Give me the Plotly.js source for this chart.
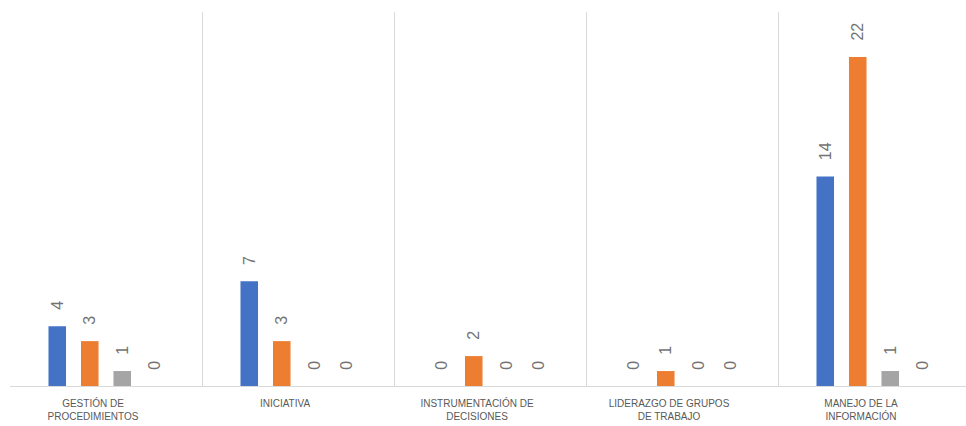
<!DOCTYPE html>
<html>
<head>
<meta charset="utf-8">
<script src="https://cdn.plot.ly/plotly-3.0.1.min.js"></script>
<style>html,body{margin:0;padding:0;background:#fff;}#chart{width:966px;height:426px;}</style>
</head>
<body>
<div id="chart"></div>
<script>
const categories = [
  "GESTIÓN DE<br>PROCEDIMIENTOS",
  "INICIATIVA",
  "INSTRUMENTACIÓN DE<br>DECISIONES",
  "LIDERAZGO DE GRUPOS<br>DE TRABAJO",
  "MANEJO DE LA<br>INFORMACIÓN"
];
const series1 = [4, 7, 0, 0, 14];
const series2 = [3, 3, 2, 1, 22];
const series3 = [1, 0, 0, 0, 1];
const series4 = [0, 0, 0, 0, 0];
const seriesNames = ["Serie 1", "Serie 2", "Serie 3", "Serie 4"];
const colors = ["#4472C4", "#ED7D31", "#A5A5A5", "#FFC000"];

const allSeries = [series1, series2, series3, series4];
const traces = allSeries.map((vals, i) => ({
  type: "bar",
  name: seriesNames[i],
  x: categories,
  y: vals,
  marker: {color: colors[i]},
  text: vals.map(v => String(v)),
  texttemplate: "\u00a0\u00a0\u00a0%{text}",
  textposition: "outside",
  textangle: -90,
  constraintext: "none",
  cliponaxis: false,
  textfont: {family: "Liberation Sans, Arial, sans-serif", size: 16, color: "#737373"},
  hoverinfo: "skip"
}));

const W = 966, L = 10, R = 0;
const catW = 192;
const plotW = W - L - R;

const layout = {
  width: 966,
  height: 426,
  margin: {l: L, r: R, t: 12, b: 40},
  paper_bgcolor: "#ffffff",
  plot_bgcolor: "#ffffff",
  showlegend: false,
  barmode: "group",
  bargap: 0.323,
  bargroupgap: 0.46,
  xaxis: {
    type: "category",
    range: [-0.5, -0.5 + plotW / catW],
    tickson: "boundaries",
    showgrid: true,
    gridcolor: "#d9d9d9",
    gridwidth: 1,
    showline: true,
    linecolor: "#d9d9d9",
    linewidth: 1,
    ticks: "",
    ticklabelshift: -13,
    ticklabelstandoff: 8,
    tickfont: {family: "Liberation Sans, Arial, sans-serif", size: 10, color: "#595959"},
    fixedrange: true
  },
  yaxis: {
    range: [0, 25],
    showgrid: false,
    zeroline: false,
    showticklabels: false,
    ticks: "",
    showline: false,
    fixedrange: true
  }
};

Plotly.newPlot("chart", traces, layout, {displayModeBar: false, staticPlot: true});
</script>
</body>
</html>
